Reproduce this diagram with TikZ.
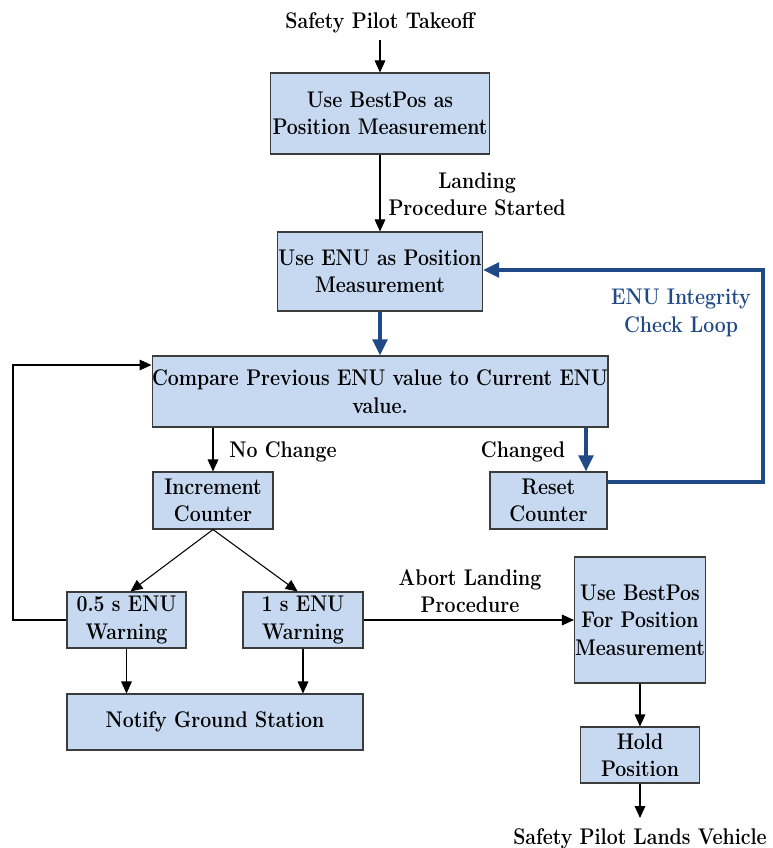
\documentclass[tikz,border=0pt]{standalone}
\usepackage{fontspec}
\setmainfont{Latin Modern Roman}[FakeStretch=0.86]
\usetikzlibrary{arrows.meta}
\definecolor{boxfill}{RGB}{198,217,240}
\definecolor{boxline}{RGB}{60,60,60}
\definecolor{loopblue}{RGB}{32,74,135}
\begin{document}
\begin{tikzpicture}[x=0.75pt,y=-0.75pt,
  every node/.style={font=\fontsize{17}{20.5}\selectfont\bfseries, align=center, inner sep=0pt},
  sz/.style 2 args={minimum width=#1*0.75pt, minimum height=#2*0.75pt},
  box/.style={draw=boxline, fill=boxfill, line width=0.8pt},
  flow/.style={line width=0.8pt, -{Triangle[length=9pt,width=8pt]}},
  bold loop/.style={draw=loopblue, line width=2.3pt, -{Triangle[length=12pt,width=11pt]}},
  lbl/.style={},
  looplbl/.style={text=loopblue}]
\useasboundingbox (0,0) rectangle (772,848);

% process boxes
\node[box, sz={219}{81}] (bp1) at (380,113.5) {Use BestPos as\\Position Measurement};
\node[box, sz={205}{79}] (enu) at (380,271.5) {Use ENU as Position\\Measurement};
\node[box, sz={454}{71}] (cmp) at (380,391.5) {Compare Previous ENU value to Current ENU\\value.};
\node[box, sz={120}{57}] (inc) at (213,500.5) {Increment\\Counter};
\node[box, sz={117}{57}] (rst) at (548.5,500.5) {Reset\\Counter};
\node[box, sz={119}{56}] (half) at (126.5,620) {0.5 s ENU\\Warning};
\node[box, sz={120}{56}] (one) at (303,620) {1 s ENU\\Warning};
\node[box, sz={296}{56}] (gnd) at (215,722) {Notify Ground Station};
\node[box, sz={131}{126}] (bp2) at (640,620) {Use BestPos\\For Position\\Measurement};
\node[box, sz={119}{56}] (hold) at (640,755) {Hold\\Position};

% terminal texts
\node (start) at (380,23) {Safety Pilot Takeoff};
\node (stop) at (640,839) {Safety Pilot Lands Vehicle};

% edge labels
\node[lbl] (lland) at (477,194) {Landing\\Procedure Started};
\node[lbl] (lnoch) at (283,452) {No Change};
\node[lbl] (lchg) at (523,452) {Changed};
\node[lbl] (labort) at (470,591) {Abort Landing\\Procedure};
\node[looplbl] (lloop) at (681,313) {ENU Integrity\\Check Loop};

% helper points for routed connectors
\coordinate (chgx) at (586,0);
\coordinate (loopA) at (763,482);
\coordinate (loopB) at (763,270);
\coordinate (fbA) at (13,620);
\coordinate (fbB) at (13,365);
\coordinate (endtip) at (640,818);

% connectors
\draw[flow] ([yshift=-5pt]start.south) -- (bp1.north);
\draw[flow] (bp1.south) -- (enu.north);
\draw[bold loop] (enu.south) -- (cmp.north);
\draw[flow] (cmp.south -| inc.north) -- (inc.north);
\draw[bold loop] (cmp.south -| chgx) -- (rst.north -| chgx);
\draw[bold loop] (rst.east |- loopA) -- (loopA) -- (loopB) -- (enu.east |- loopB);
\draw[flow] (inc.south) -- ([xshift=3pt]half.north);
\draw[flow] (inc.south) -- ([xshift=-4pt]one.north);
\draw[flow] (half.south) -- (gnd.north -| half.south);
\draw[flow] (one.south) -- (gnd.north -| one.south);
\draw[flow] (half.west) -- (fbA) -- (fbB) -- (cmp.west |- fbB);
\draw[flow] (one.east) -- (bp2.west);
\draw[flow] (bp2.south) -- (hold.north);
\draw[flow] (hold.south) -- (endtip);
\end{tikzpicture}
\end{document}
